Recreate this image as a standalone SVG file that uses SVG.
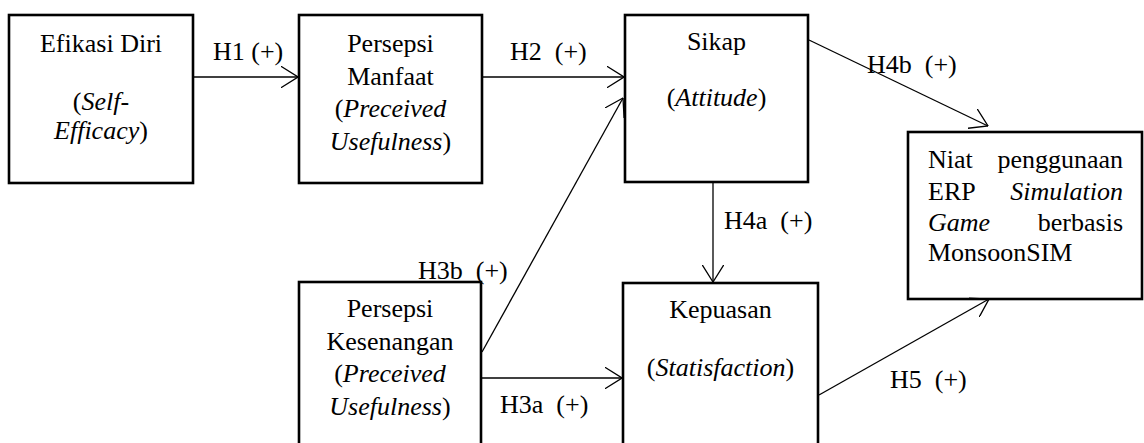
<svg xmlns="http://www.w3.org/2000/svg" width="1144" height="443" viewBox="0 0 1144 443" font-family="'Liberation Serif', 'DejaVu Serif', serif" font-size="26">
<defs>
<style>
.box{fill:#fff;stroke:#000;stroke-width:2.6}
text{font-family:'Liberation Serif','DejaVu Serif',serif;font-size:26px;fill:#000}
.c{text-anchor:middle}
.e{text-anchor:end}
.i{font-style:italic}
.ln{stroke:#000;stroke-width:1.3;fill:none}
</style>
<marker id="ah" viewBox="0 0 18 22" refX="17.5" refY="11" markerWidth="18" markerHeight="22" markerUnits="userSpaceOnUse" orient="auto">
<path d="M0,0 L17.5,11 L0,22" fill="none" stroke="#000" stroke-width="1.3"/>
</marker>
</defs>
<rect width="1144" height="443" fill="#fff"/>
<g id="n-efikasi">
<rect class="box" x="9" y="15" width="184" height="168"/>
<text class="c" x="101" y="52">Efikasi Diri</text>
<text class="c" x="101" y="110">(<tspan class="i">Self</tspan>-</text>
<text class="c" x="101" y="139"><tspan class="i">Efficacy</tspan>)</text>
</g>
<g id="n-manfaat">
<rect class="box" x="299" y="15" width="183" height="168"/>
<text class="c" x="390.5" y="52">Persepsi</text>
<text class="c" x="390.5" y="85">Manfaat</text>
<text class="c" x="390.5" y="117">(<tspan class="i">Preceived</tspan></text>
<text class="c" x="390.5" y="150"><tspan class="i">Usefulness</tspan>)</text>
</g>
<g id="n-sikap">
<rect class="box" x="625" y="15" width="183" height="167"/>
<text class="c" x="716.5" y="50">Sikap</text>
<text class="c" x="716.5" y="106">(<tspan class="i">Attitude</tspan>)</text>
</g>
<g id="n-niat">
<rect class="box" x="908" y="132" width="234" height="167"/>
<text x="928" y="168">Niat</text><text class="e" x="1123" y="168">penggunaan</text>
<text x="928" y="200">ERP</text><text class="e i" x="1123" y="200">Simulation</text>
<text class="i" x="928" y="231">Game</text><text class="e" x="1123" y="231">berbasis</text>
<text x="928" y="261">MonsoonSIM</text>
</g>
<g id="n-kesenangan">
<rect class="box" x="299" y="282" width="182" height="180"/>
<text class="c" x="390" y="317">Persepsi</text>
<text class="c" x="390" y="350">Kesenangan</text>
<text class="c" x="390" y="382">(<tspan class="i">Preceived</tspan></text>
<text class="c" x="390" y="415"><tspan class="i">Usefulness</tspan>)</text>
</g>
<g id="n-kepuasan">
<rect class="box" x="623" y="283" width="195" height="180"/>
<text class="c" x="720.5" y="318">Kepuasan</text>
<text class="c" x="720.5" y="376">(<tspan class="i">Statisfaction</tspan>)</text>
</g>
<g id="connectors">
<line class="ln" x1="194" y1="77" x2="298" y2="77" marker-end="url(#ah)"/>
<line class="ln" x1="483" y1="77" x2="624" y2="77" marker-end="url(#ah)"/>
<line class="ln" x1="482" y1="352" x2="623" y2="98" marker-end="url(#ah)"/>
<line class="ln" x1="713" y1="183" x2="713" y2="282" stroke="#444" marker-end="url(#ah)"/>
<line class="ln" x1="809" y1="40" x2="988" y2="126" marker-end="url(#ah)"/>
<line class="ln" x1="482" y1="378" x2="622" y2="378" marker-end="url(#ah)"/>
<line class="ln" x1="819" y1="395" x2="989" y2="299" marker-end="url(#ah)"/>
</g>
<g id="labels">
<text x="213" y="60">H1 (+)</text>
<text x="510" y="60" xml:space="preserve">H2  (+)</text>
<text x="867" y="73" xml:space="preserve">H4b  (+)</text>
<text x="724" y="229" xml:space="preserve">H4a  (+)</text>
<text x="418" y="279" xml:space="preserve">H3b  (+)</text>
<text x="500" y="413" xml:space="preserve">H3a  (+)</text>
<text x="890" y="388" xml:space="preserve">H5  (+)</text>
</g>
</svg>
